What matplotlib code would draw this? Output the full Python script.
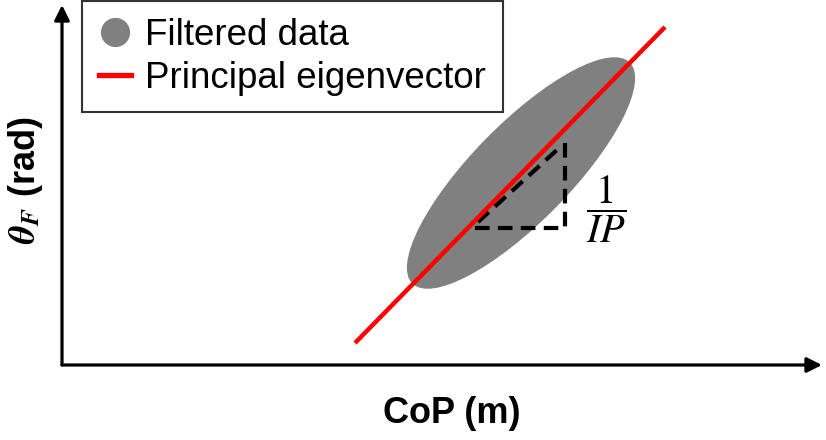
import matplotlib.pyplot as plt
from matplotlib.patches import Ellipse
from matplotlib.lines import Line2D

plt.rcParams['font.family'] = ['Liberation Sans', 'DejaVu Sans']
plt.rcParams['mathtext.fontset'] = 'stix'

# schematic data (axis units)
ellipse_center = (45.9, 19.2)
ellipse_width = 31.0
ellipse_height = 9.8
ellipse_angle = 45.5

eig_x = [29.3, 60.3]
eig_y = [2.2, 33.8]

tri_x = [41.3, 50.3, 50.3]
tri_y = [13.7, 13.7, 23.0]
hyp_x = [41.6, 49.6]
hyp_y = [14.3, 21.6]

frac_pos = (54.4, 15.6)
frac_label = r'$\dfrac{1}{IP}$'

legend_labels = ['Filtered data', 'Principal eigenvector']
x_label = 'CoP (m)'
y_label = r'$\mathbfit{\theta}_{\mathbfit{F}}$ (rad)'

fig = plt.figure(figsize=(8.26, 4.40), dpi=100)
ax = fig.add_axes([62 / 826, 75 / 440, 760 / 826, 360 / 440])
ax.set_xlim(0, 76)
ax.set_ylim(0, 36)
for s in ax.spines.values():
    s.set_visible(False)
ax.set_xticks([])
ax.set_yticks([])

# axis arrows
arrow = dict(arrowstyle='-|>,head_length=0.9,head_width=0.45', lw=2.3, color='black',
             shrinkA=0, shrinkB=0)
ax.annotate('', xy=(1.0, 0), xytext=(0, 0), xycoords='axes fraction', arrowprops=arrow,
            annotation_clip=False)
ax.annotate('', xy=(0, 1.0), xytext=(0, 0), xycoords='axes fraction', arrowprops=arrow,
            annotation_clip=False)

ax.add_patch(Ellipse(ellipse_center, ellipse_width, ellipse_height, angle=ellipse_angle,
                     facecolor='#808080', edgecolor='none', zorder=2))
ax.plot(eig_x, eig_y, color='#ff0000', lw=3.2, solid_capstyle='butt', zorder=4)

ax.plot(tri_x, tri_y, color='black', lw=3, linestyle=(0, (3.5, 2)), zorder=3)
ax.plot(hyp_x, hyp_y, color='black', lw=3, linestyle=(0, (3.5, 2)), zorder=3)

ax.text(frac_pos[0], frac_pos[1], frac_label, fontsize=29, ha='center', va='center')

ax.set_xlabel(x_label, fontsize=26, fontweight='bold')
ax.xaxis.set_label_coords(0.513, -0.085)
ax.set_ylabel(y_label, fontsize=26, fontweight='bold')
ax.yaxis.set_label_coords(-0.022, 0.514)

handles = [
    Line2D([], [], marker='o', color='#808080', linestyle='none', markersize=20),
    Line2D([], [], color='#ff0000', lw=3.8),
]
leg = ax.legend(handles, legend_labels, loc='upper left',
                bbox_to_anchor=(82 / 826, 1.0 - 1 / 440), bbox_transform=fig.transFigure,
                fontsize=26.5, frameon=True, fancybox=False, borderaxespad=0,
                handlelength=0.87, handletextpad=0.4, borderpad=0.45, labelspacing=0.22)
leg.get_frame().set_edgecolor('black')
leg.get_frame().set_linewidth(1.5)

fig.savefig('out.png', dpi=100)
